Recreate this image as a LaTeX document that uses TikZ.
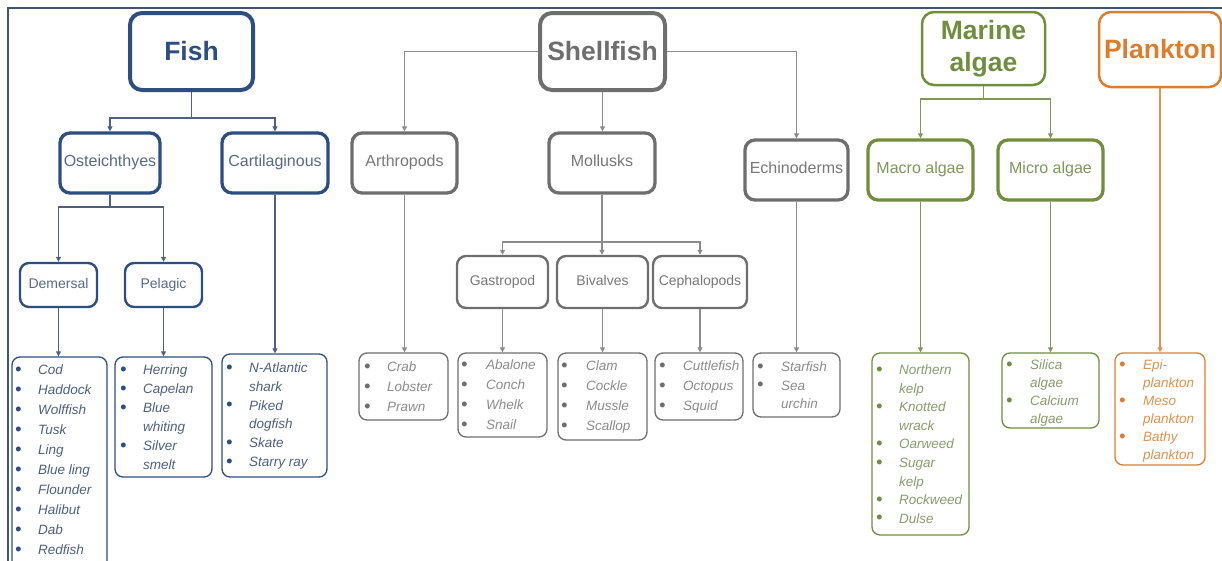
\documentclass[tikz,border=0pt]{standalone}
\usepackage{fontspec}
\setmainfont{Liberation Sans}
\usetikzlibrary{arrows.meta}
\definecolor{fishc}{RGB}{46,78,128}
\definecolor{fisht}{RGB}{88,106,138}
\definecolor{fishl}{RGB}{80,96,128}
\definecolor{shellc}{RGB}{110,110,110}
\definecolor{shellt}{RGB}{120,120,120}
\definecolor{shelll}{RGB}{140,140,140}
\definecolor{algc}{RGB}{112,142,62}
\definecolor{algt}{RGB}{128,150,92}
\definecolor{algl}{RGB}{138,156,110}
\definecolor{plac}{RGB}{220,125,45}
\definecolor{plal}{RGB}{226,146,80}
\definecolor{framec}{RGB}{68,84,110}
\newcommand{\bul}[1]{\textcolor{#1}{\raisebox{-0.6pt}{\scalebox{1.35}{\textbullet}}}}
\tikzset{
  box/.style={draw, rounded corners=9pt, fill=white, inner sep=0pt, align=center},
  titlebox/.style={box, rounded corners=12pt, font=\fontsize{26.5}{32}\selectfont\bfseries},
  subbox/.style={box, line width=3.3pt, rounded corners=10pt, text height=0.85em, text depth=0.2em, font=\fontsize{16}{19}\selectfont},
  thirdbox/.style={box, line width=2.4pt, rounded corners=9pt, text height=0.85em, text depth=0.2em, font=\fontsize{14}{17}\selectfont},
  listbox/.style={draw, line width=1.3pt, rounded corners=8pt, fill=white, inner sep=0pt},
  ltxt/.style={anchor=base west, inner sep=0pt, font=\fontsize{13.5}{#1}\selectfont\itshape},
  arr/.style={line width=1.2pt, -{Triangle[length=5pt,width=5pt]}},
}
\begin{document}
\begin{tikzpicture}[x=1pt,y=-1pt]
\useasboundingbox (0,0) rectangle (1222,560);
% frame
\draw[framec, line width=2.2pt] (8,562) -- (8,8) -- (1224,8);

% ---------------- Fish ----------------
\node[titlebox, draw=fishc, text=fishc, line width=4pt, minimum width=123pt, minimum height=77pt] (fish) at (191.5,51.5) {Fish};
\node[subbox, draw=fishc, text=fisht, minimum width=100pt, minimum height=60pt] (ost) at (110,163) {Osteichthyes};
\node[subbox, draw=fishc, text=fisht, minimum width=106pt, minimum height=60pt] (cart) at (275,163) {Cartilaginous};
\node[thirdbox, draw=fishc, text=fisht, minimum width=77pt, minimum height=44pt] (dem) at (58.5,285) {Demersal};
\node[thirdbox, draw=fishc, text=fisht, minimum width=77pt, minimum height=44pt] (pel) at (163.5,285) {Pelagic};
\node[listbox, draw=fishc, minimum width=95pt, minimum height=218pt] (demL) at (59.5,466) {};
\node[listbox, draw=fishc, minimum width=97pt, minimum height=120pt] (pelL) at (163.5,417) {};
\node[listbox, draw=fishc, minimum width=105pt, minimum height=123pt] (carL) at (274.5,415.5) {};
\node[ltxt=20, text=fishl] (demT) at (15,374.5) {\begin{tabular}[t]{@{}p{23pt}@{}l@{}}
\bul{fishc} & Cod\\ \bul{fishc} & Haddock\\ \bul{fishc} & Wolffish\\ \bul{fishc} & Tusk\\ \bul{fishc} & Ling\\
\bul{fishc} & Blue ling\\ \bul{fishc} & Flounder\\ \bul{fishc} & Halibut\\ \bul{fishc} & Dab\\ \bul{fishc} & Redfish
\end{tabular}};
\node[ltxt=19, text=fishl] (pelT) at (120,374.5) {\begin{tabular}[t]{@{}p{23pt}@{}l@{}}
\bul{fishc} & Herring\\ \bul{fishc} & Capelan\\ \bul{fishc} & Blue\\ & whiting\\ \bul{fishc} & Silver\\ & smelt
\end{tabular}};
\node[ltxt=18.8, text=fishl] (carT) at (226,372.5) {\begin{tabular}[t]{@{}p{23pt}@{}l@{}}
\bul{fishc} & N-Atlantic\\ & shark\\ \bul{fishc} & Piked\\ & dogfish\\ \bul{fishc} & Skate\\ \bul{fishc} & Starry ray
\end{tabular}};
\coordinate (fb) at (191.5,118);
\coordinate (ob) at (110,207);
\begin{scope}[draw=fishl]
\draw[arr] (fish.south) -- (fb) -| (ost.north);
\draw[arr] (fb) -| (cart.north);
\draw[arr] (ost.south) -- (ob) -| (dem.north);
\draw[arr] (ob) -| (pel.north);
\draw[arr] (dem.south) -- (dem.south |- demL.north);
\draw[arr] (pel.south) -- (pel.south |- pelL.north);
\draw[arr] (cart.south) -- (cart.south |- carL.north);
\end{scope}

% ---------------- Shellfish ----------------
\node[titlebox, draw=shellc, text=shellc, line width=4pt, minimum width=125pt, minimum height=77pt] (shell) at (602.5,51.5) {Shellfish};
\node[subbox, draw=shellc, text=shellt, minimum width=105pt, minimum height=60pt] (arth) at (404.5,163) {Arthropods};
\node[subbox, draw=shellc, text=shellt, minimum width=106pt, minimum height=60pt] (moll) at (602,163) {Mollusks};
\node[subbox, draw=shellc, text=shellt, minimum width=103pt, minimum height=60pt] (echi) at (796.5,170) {Echinoderms};
\node[thirdbox, draw=shellc, text=shellt, minimum width=91pt, minimum height=52pt] (gas) at (502.5,282) {Gastropod};
\node[thirdbox, draw=shellc, text=shellt, minimum width=91pt, minimum height=52pt] (biv) at (602.5,282) {Bivalves};
\node[thirdbox, draw=shellc, text=shellt, minimum width=94pt, minimum height=52pt] (ceph) at (700,282) {Cephalopods};
\node[listbox, draw=shellc, minimum width=89pt, minimum height=67pt] (crabL) at (403.5,386.5) {};
\node[listbox, draw=shellc, minimum width=89pt, minimum height=84pt] (gasL) at (502.5,395) {};
\node[listbox, draw=shellc, minimum width=89pt, minimum height=87pt] (bivL) at (602.5,396.5) {};
\node[listbox, draw=shellc, minimum width=88pt, minimum height=67pt] (cepL) at (699,386.5) {};
\node[listbox, draw=shellc, minimum width=87pt, minimum height=64pt] (echL) at (796.5,385) {};
\node[ltxt=20, text=shelll] (crabT) at (364,371.5) {\begin{tabular}[t]{@{}p{23pt}@{}l@{}}
\bul{shellc} & Crab\\ \bul{shellc} & Lobster\\ \bul{shellc} & Prawn
\end{tabular}};
\node[ltxt=20, text=shelll] (gasT) at (461,369.5) {\begin{tabular}[t]{@{}p{25pt}@{}l@{}}
\bul{shellc} & Abalone\\ \bul{shellc} & Conch\\ \bul{shellc} & Whelk\\ \bul{shellc} & Snail
\end{tabular}};
\node[ltxt=20, text=shelll] (bivT) at (561,370.5) {\begin{tabular}[t]{@{}p{25pt}@{}l@{}}
\bul{shellc} & Clam\\ \bul{shellc} & Cockle\\ \bul{shellc} & Mussle\\ \bul{shellc} & Scallop
\end{tabular}};
\node[ltxt=20, text=shelll] (cepT) at (659,370.5) {\begin{tabular}[t]{@{}p{24pt}@{}l@{}}
\bul{shellc} & Cuttlefish\\ \bul{shellc} & Octopus\\ \bul{shellc} & Squid
\end{tabular}};
\node[ltxt=18.5, text=shelll] (echT) at (757,371.5) {\begin{tabular}[t]{@{}p{24pt}@{}l@{}}
\bul{shellc} & Starfish\\ \bul{shellc} & Sea\\ & urchin
\end{tabular}};
\coordinate (mb) at (602,242);
\begin{scope}[draw=shelll]
\draw[arr] (shell.west) -| (arth.north);
\draw[arr] (shell.east) -| (echi.north);
\draw[arr] (shell.south) -- (shell.south |- moll.north);
\draw[arr] (moll.south) -- (mb) -| (gas.north);
\draw[arr] (mb) -| (ceph.north);
\draw[arr] (mb) -- (mb |- biv.north);
\draw[arr] (arth.south) -- (arth.south |- crabL.north);
\draw[arr] (gas.south) -- (gas.south |- gasL.north);
\draw[arr] (biv.south) -- (biv.south |- bivL.north);
\draw[arr] (ceph.south) -- (ceph.south |- cepL.north);
\draw[arr] (echi.south) -- (echi.south |- echL.north);
\end{scope}

% ---------------- Marine algae ----------------
\node[titlebox, draw=algc, text=algc, line width=2.5pt, minimum width=123pt, minimum height=73pt] (mar) at (983.5,48.5) {Marine\\algae};
\node[subbox, draw=algc, text=algt, minimum width=105pt, minimum height=60pt] (macro) at (920.5,170) {Macro algae};
\node[subbox, draw=algc, text=algt, minimum width=105pt, minimum height=60pt] (micro) at (1050.5,170) {Micro algae};
\node[listbox, draw=algc, minimum width=97pt, minimum height=182pt] (macL) at (920.5,444) {};
\node[listbox, draw=algc, minimum width=97pt, minimum height=75pt] (micL) at (1050.5,390.5) {};
\node[ltxt=18.6, text=algl] (macT) at (876,374.5) {\begin{tabular}[t]{@{}p{23pt}@{}l@{}}
\bul{algc} & Northern\\ & kelp\\ \bul{algc} & Knotted\\ & wrack\\ \bul{algc} & Oarweed\\
\bul{algc} & Sugar\\ & kelp\\ \bul{algc} & Rockweed\\ \bul{algc} & Dulse
\end{tabular}};
\node[ltxt=18, text=algl] (micT) at (1006,369.5) {\begin{tabular}[t]{@{}p{24pt}@{}l@{}}
\bul{algc} & Silica\\ & algae\\ \bul{algc} & Calcium\\ & algae
\end{tabular}};
\coordinate (mab) at (983.5,99);
\begin{scope}[draw=algt]
\draw[arr] (mar.south) -- (mab) -| (macro.north);
\draw[arr] (mab) -| (micro.north);
\draw[arr] (macro.south) -- (macro.south |- macL.north);
\draw[arr] (micro.south) -- (micro.south |- micL.north);
\end{scope}

% ---------------- Plankton ----------------
\node[titlebox, draw=plac, text=plac, line width=2.5pt, minimum width=122pt, minimum height=75pt] (plank) at (1160,49.5) {Plankton};
\node[listbox, draw=plac, minimum width=90pt, minimum height=112pt] (plaL) at (1160,409) {};
\node[ltxt=18, text=plal] (plaT) at (1119,369.5) {\begin{tabular}[t]{@{}p{24pt}@{}l@{}}
\bul{plac} & Epi-\\ & plankton\\ \bul{plac} & Meso\\ & plankton\\ \bul{plac} & Bathy\\ & plankton
\end{tabular}};
\draw[arr, draw=plal] (plank.south) -- (plank.south |- plaL.north);
\end{tikzpicture}
\end{document}
